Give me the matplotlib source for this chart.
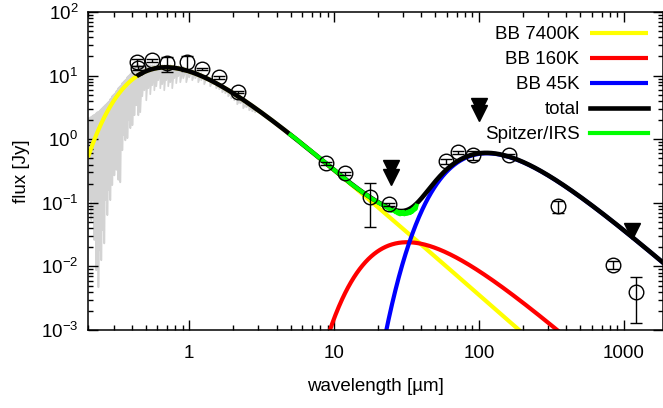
import numpy as np
import matplotlib
matplotlib.use("Agg")
import matplotlib.pyplot as plt
from matplotlib.ticker import LogLocator, NullFormatter, FixedLocator, FixedFormatter

plt.rcParams['font.family'] = ['Liberation Sans', 'DejaVu Sans']
plt.rcParams['mathtext.default'] = 'regular'

# ---- blackbody components: temperature [K] and peak flux density [Jy]
bb_temps = [7400, 160, 45]
bb_peaks = [13.5, 0.024, 0.6]
bb_labels = ["BB 7400K", "BB 160K", "BB 45K"]
bb_colors = ["#ffff00", "#ff0000", "#0000ff"]
total_start_um = 0.445

# ---- stellar model spectrum: continuum top and absorption-line bottoms
spec_wl = [0.201, 0.204, 0.208, 0.211, 0.214, 0.218, 0.221, 0.225, 0.228, 0.232,
           0.236, 0.240, 0.243, 0.247, 0.251, 0.255, 0.259, 0.263, 0.268, 0.272,
           0.276, 0.281, 0.285, 0.290, 0.294, 0.299, 0.304, 0.309, 0.314, 0.319,
           0.324, 0.329, 0.334, 0.340, 0.345, 0.351, 0.356, 0.362, 0.368, 0.374,
           0.380, 0.386, 0.392, 0.398, 0.405, 0.411, 0.418, 0.424, 0.431, 0.438,
           0.445, 0.452, 0.459, 0.474, 0.490, 0.505, 0.522, 0.538, 0.556, 0.574,
           0.592, 0.611, 0.631, 0.651, 0.672, 0.694, 0.716, 0.740, 0.763, 0.788,
           0.813, 0.840, 0.867, 0.909, 0.954, 1.000, 1.049, 1.100, 1.154, 1.210,
           1.269, 1.331, 1.396, 1.464, 1.535, 1.610, 1.689, 1.771, 1.858, 1.949,
           2.044, 2.143, 2.248, 2.357, 2.472, 2.593, 2.720, 2.851]
spec_top = [2.14, 2.06, 2.22, 2.14, 2.30, 2.38, 2.38, 2.47, 2.56, 2.66,
            2.66, 2.76, 2.86, 2.96, 3.07, 3.19, 3.30, 3.42, 3.55, 3.68,
            3.82, 3.96, 4.26, 4.41, 4.74, 4.92, 5.10, 5.29, 5.68, 5.89,
            6.34, 6.57, 6.81, 7.06, 7.60, 7.87, 8.17, 8.47, 8.78, 9.44,
            9.80, 10.1, 10.5, 10.9, 11.7, 12.2, 12.6, 13.1, 14.05, 14.6,
            15.1, 14.05, 14.05, 14.05, 14.05, 14.05, 14.6, 14.6, 14.6, 14.6,
            14.6, 14.6, 14.6, 14.6, 14.6, 14.6, 14.6, 14.6, 14.05, 14.05,
            14.05, 14.05, 13.55, 13.55, 13.1, 12.6, 12.2, 11.7, 11.3, 10.9,
            10.1, 9.80, 9.10, 8.47, 7.87, 7.33, 6.81, 6.34, 5.89, 5.48,
            4.92, 4.57, 4.26, 3.96, 3.68, 3.42, 3.19, 2.96]
spec_dip = [0.67, 0.11, 0.27, 0.053, 0.47, 0.11, 0.026, 0.23, 0.0087, 0.037,
            0.0047, 0.018, 0.11, 0.0125, 0.158, 0.037, 0.023, 0.11, 0.27, 0.064,
            0.47, 0.158, 0.11, 0.39, 0.19, 0.67, 0.27, 0.90, 0.33, 1.39,
            0.23, 0.96, 0.21, 1.66, 0.67, 1.99, 1.16, 0.96, 2.86, 1.04,
            3.42, 1.99, 1.49, 4.10, 1.66, 4.92, 2.38, 5.89, 3.42, 8.47,
            2.38, 5.89, 2.66, 4.74, 5.89, 4.10, 6.34, 5.10, 7.06, 5.89,
            6.81, 8.47, 6.34, 7.33, 5.89, 8.47, 6.81, 7.87, 6.34, 9.10,
            7.60, 9.80, 7.87, 9.10, 7.87, 9.44, 8.47, 9.10, 7.87, 8.47,
            7.33, 8.47, 6.81, 7.33, 6.34, 6.11, 5.48, 5.29, 4.74, 4.41,
            4.10, 3.55, 3.68, 3.07, 3.19, 2.86, 2.76, 2.66]

# ---- Spitzer/IRS spectrum
irs_wl = [5.0, 5.5, 6.0, 6.5, 7.0, 7.5, 8.0, 9.0, 10.0, 11.0, 12.0, 13.0, 14.0,
          15.0, 16.0, 17.0, 18.0, 19.0, 20.0, 21.0, 22.0, 23.0, 24.0, 25.0, 26.0,
          26.5, 27.0, 27.5, 28.0, 28.5, 29.0, 29.5, 30.0, 30.5, 31.0, 31.5, 32.0,
          32.5, 33.0, 33.5, 34.0, 34.5, 35.0, 35.5, 36.0, 36.5, 37.0]
irs_flux = [1.17, 1.00, 0.84, 0.73, 0.64, 0.56, 0.50, 0.40, 0.33, 0.275, 0.235,
            0.20, 0.178, 0.158, 0.142, 0.130, 0.118, 0.110, 0.102, 0.096, 0.090,
            0.085, 0.080, 0.075, 0.077, 0.071, 0.074, 0.068, 0.072, 0.066, 0.071,
            0.067, 0.072, 0.066, 0.070, 0.067, 0.072, 0.068, 0.074, 0.069, 0.076,
            0.072, 0.080, 0.076, 0.085, 0.080, 0.090]

# ---- photometry with 1-sigma errors [Jy]
phot_wl = [0.435, 0.44, 0.555, 0.705, 0.968, 1.23, 1.61, 2.18, 8.8, 11.9, 17.7,
           24.0, 59.3, 71.6, 90.6, 161.0, 350.0, 840.0, 1210.0]
phot_flux = [16.2, 13.1, 17.4, 15.6, 16.2, 12.6, 9.4, 5.5, 0.42, 0.29, 0.125,
             0.095, 0.45, 0.62, 0.56, 0.56, 0.088, 0.0105, 0.004]
phot_err = [2.0, 1.0, 0.8, 4.3, 4.5, 0.5, 0.4, 0.25, 0.02, 0.02, 0.083,
            0.006, 0.04, 0.03, 0.09, 0.03, 0.02, 0.0015, 0.0027]

# ---- upper limits [Jy]
ul_wl = [24.5, 24.5, 100.0, 100.0, 1140.0]
ul_flux = [0.35, 0.253, 3.3, 2.56, 0.036]

xtick_vals = [1, 10, 100, 1000]
xtick_labels = ["1", "10", "100", "1000"]
ytick_vals = [1e-3, 1e-2, 1e-1, 1e0, 1e1, 1e2]
ytick_labels = ["$10^{-3}$", "$10^{-2}$", "$10^{-1}$", "$10^{0}$", "$10^{1}$", "$10^{2}$"]

FS = 13.5


def planck_norm(wl_um, temp):
    """Planck F_nu shape normalised to 1 at its peak."""
    x = 14387.77 / (wl_um * temp)
    with np.errstate(over="ignore"):
        return x**3 / np.expm1(x) / 1.421435


fig = plt.figure(figsize=(6.63, 4.08), dpi=100)
ax = fig.add_axes([88 / 663, 78 / 408, 575 / 663, 318 / 408])

wl = np.logspace(np.log10(0.2), np.log10(2000), 1200)

# stellar spectrum as a dense top/bottom sawtooth
sw = np.repeat(spec_wl, 2)
sf = np.ravel(np.column_stack([spec_top, spec_dip]))
ax.plot(sw, sf, color="#d3d3d3", lw=1.25, zorder=1)

handles = []
comps = []
for T, pk, lab, col in zip(bb_temps, bb_peaks, bb_labels, bb_colors):
    f = pk * planck_norm(wl, T)
    comps.append(f)
    h, = ax.plot(wl, f, color=col, lw=3.0, zorder=2, label=lab,
                 solid_capstyle="butt")
    handles.append(h)

total = np.sum(comps, axis=0)
sel = wl >= total_start_um
h, = ax.plot(wl[sel], total[sel], color="black", lw=3.3, zorder=3, label="total")
handles.append(h)

h, = ax.plot(irs_wl, irs_flux, color="#00ff00", lw=3.0, zorder=4, label="Spitzer/IRS")
handles.append(h)

ax.errorbar(phot_wl, phot_flux, yerr=phot_err, fmt="o", ms=10.5, mfc="none",
            mec="black", mew=1.0, ecolor="black", elinewidth=1.0, capsize=4.5,
            capthick=1.0, zorder=5)
ax.plot(ul_wl, ul_flux, "v", color="black", ms=11, zorder=5, lw=0)

ax.set_xscale("log")
ax.set_yscale("log")
ax.set_xlim(0.2, 1860)
ax.set_ylim(1e-3, 1e2)

ax.xaxis.set_major_locator(FixedLocator(xtick_vals))
ax.xaxis.set_major_formatter(FixedFormatter(xtick_labels))
ax.yaxis.set_major_locator(FixedLocator(ytick_vals))
ax.yaxis.set_major_formatter(FixedFormatter(ytick_labels))
for axis in (ax.xaxis, ax.yaxis):
    axis.set_minor_locator(LogLocator(base=10, subs=np.arange(2, 10), numticks=50))
    axis.set_minor_formatter(NullFormatter())

ax.tick_params(which="both", direction="in", top=True, right=True, width=1.0,
               labelsize=FS, colors="black")
ax.tick_params(which="major", length=7)
ax.tick_params(which="minor", length=3.6)
ax.tick_params(axis="x", pad=11)
ax.tick_params(axis="y", pad=7)
for s in ax.spines.values():
    s.set_linewidth(1.1)

ax.set_xlabel("wavelength [µm]", fontsize=FS, labelpad=11)
ax.set_ylabel("flux [Jy]", fontsize=FS, labelpad=8)

ax.legend(handles=handles, loc="upper right", bbox_to_anchor=(0.974, 0.955),
          frameon=False, markerfirst=False, fontsize=FS, handlelength=3.1,
          handletextpad=0.55, labelspacing=0.42, borderpad=0, borderaxespad=0)

fig.savefig("out.png", dpi=100)
